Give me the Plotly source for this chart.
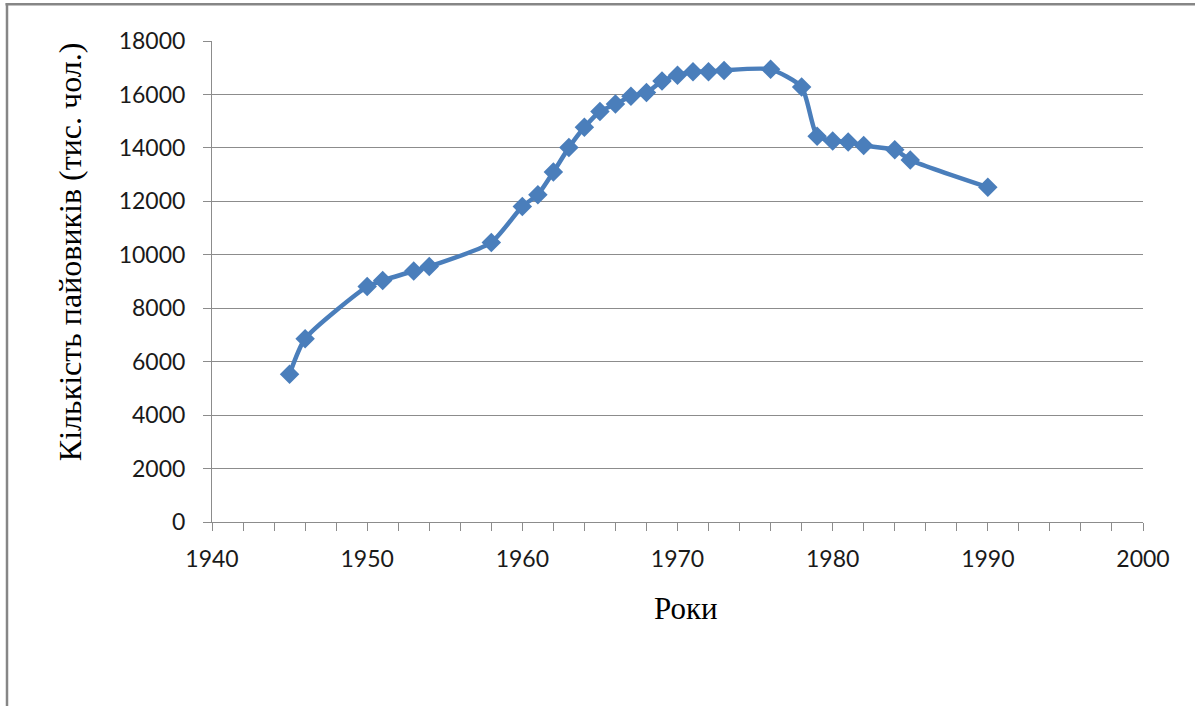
import plotly.graph_objects as go

years = [1945, 1946, 1950, 1951, 1953, 1954, 1958, 1960, 1961, 1962, 1963, 1964,
         1965, 1966, 1967, 1968, 1969, 1970, 1971, 1972, 1973, 1976, 1978, 1979,
         1980, 1981, 1982, 1984, 1985, 1990]
members = [5530, 6860, 8810, 9040, 9390, 9560, 10460, 11810, 12250, 13100, 14010, 14770,
           15360, 15640, 15930, 16070, 16500, 16720, 16850, 16850, 16900, 16940, 16280, 14440,
           14260, 14220, 14090, 13930, 13550, 12530]

x_title = "Роки"
y_title = "Кількість пайовиків (тис. чол.)"

W, H = 1195, 706
L, R, T, B = 212, 1143, 40.7, 522


def px(xp):
    return (xp - L) / (R - L)


def py(yp):
    return (B - yp) / (B - T)


fig = go.Figure()
fig.add_trace(go.Scatter(
    x=years, y=members, mode="lines+markers",
    line=dict(color="#4A7EBB", width=4.5, shape="spline", smoothing=0.6),
    marker=dict(symbol="diamond", size=15, color="#4A7EBB"),
    showlegend=False, hoverinfo="x+y",
))

grid = "#8c8c8c"
fig.update_layout(
    width=W, height=H,
    margin=dict(l=L, r=W - R, t=T, b=H - B, pad=0),
    paper_bgcolor="white", plot_bgcolor="white",
    xaxis=dict(range=[1940, 2000], dtick=10, tick0=1940, showgrid=False, zeroline=False,
               showline=True, linecolor=grid, linewidth=1, tickformat="d",
               ticks="outside", ticklen=8, tickcolor=grid, tickwidth=1,
               minor=dict(dtick=2, ticks="outside", ticklen=8, tickcolor=grid, tickwidth=1, showgrid=False),
               tickfont=dict(family="Lato", size=23, color="#1a1a1a"),
               ticklabelstandoff=8),
    yaxis=dict(range=[0, 18000], dtick=2000, showgrid=True, gridcolor=grid, gridwidth=1,
               zeroline=False, showline=True, linecolor=grid, linewidth=1, tickformat="d",
               ticks="outside", ticklen=8, tickcolor=grid, tickwidth=1,
               tickfont=dict(family="Lato", size=23, color="#1a1a1a"),
               ticklabelstandoff=13),
    annotations=[
        dict(text=x_title, xref="paper", yref="paper", x=px(686), y=py(609),
             xanchor="center", yanchor="middle", showarrow=False,
             font=dict(family="Liberation Serif", size=31, color="#000000")),
        dict(text=y_title, xref="paper", yref="paper", x=px(70), y=py(252),
             xanchor="center", yanchor="middle", showarrow=False, textangle=-90,
             font=dict(family="Liberation Serif", size=32, color="#000000")),
    ],
    shapes=[
        dict(type="line", xref="paper", yref="paper", x0=px(5.5), x1=px(W + 5), y0=py(4), y1=py(4),
             line=dict(color="#868686", width=2.5)),
        dict(type="line", xref="paper", yref="paper", x0=px(7), x1=px(7), y0=py(3), y1=py(H + 5),
             line=dict(color="#868686", width=2.5)),
    ],
)

fig.write_html("out.html", config={"displayModeBar": False},
               post_script="document.body.style.margin='0';document.body.style.overflow='hidden';")
